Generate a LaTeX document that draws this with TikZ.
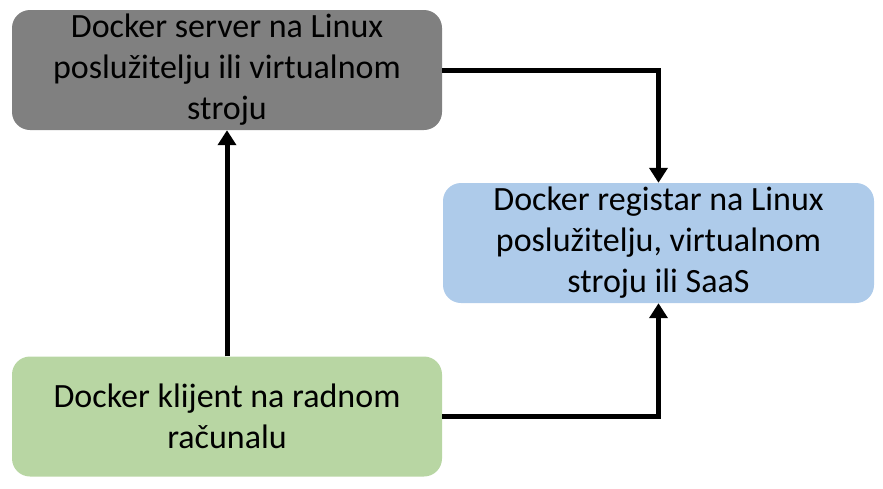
\documentclass[tikz,border=0pt]{standalone}
\usepackage{fontspec}
\setmainfont{Carlito}
\usetikzlibrary{arrows.meta}

\definecolor{servergray}{HTML}{808080}
\definecolor{registryblue}{HTML}{AECBEA}
\definecolor{clientgreen}{HTML}{B8D6A3}

\begin{document}
\begin{tikzpicture}
      [
        x=1pt, y=-1pt,
        box/.style={rounded corners=18pt, minimum width=430pt, minimum height=120pt,
          inner sep=0pt, align=center, font=\fontsize{34}{41}\selectfont},
        link/.style={line width=5pt, -{Triangle[width=18pt,length=15pt]}}
      ]
      \useasboundingbox (0,0) rectangle (883,488);
      % boxes
      \node [box, fill=servergray] (server) at (227,70)
        {Docker server na Linux\\ poslužitelju ili virtualnom\\ stroju};
      \node [box, fill=registryblue, minimum width=431pt] (registar) at (658.5,243)
        {Docker registar na Linux\\ poslužitelju, virtualnom\\ stroju ili SaaS};
      \node [box, fill=clientgreen] (klijent) at (227,416.5)
        {Docker klijent na radnom\\ računalu};
      % links
      \draw [link] (klijent.north) -- (server.south);
      \draw [link] (server.east) -| (registar.north);
      \draw [link] (klijent.east) -| (registar.south);
\end{tikzpicture}
\end{document}
